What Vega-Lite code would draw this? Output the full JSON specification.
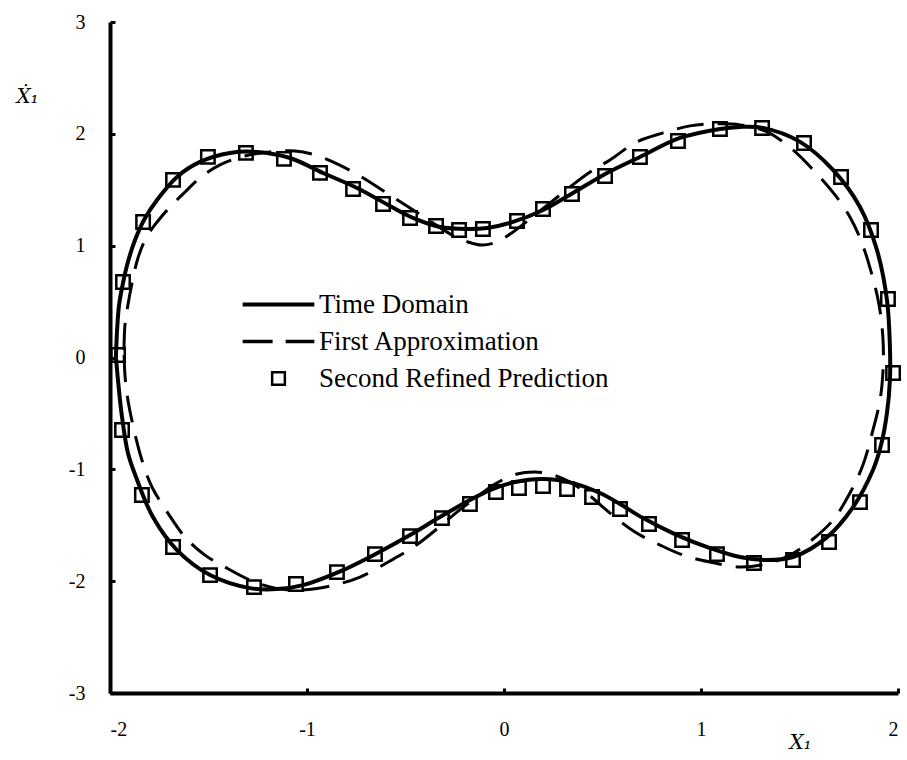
{
  "$schema": "https://vega.github.io/schema/vega-lite/v6.json",
  "autosize": {"type": "none"},
  "padding": {"left": 110, "top": 22, "right": 9, "bottom": 67},
  "width": 788,
  "height": 671,
  "background": "white",
  "config": {"view": {"stroke": null}},
  "datasets": {
    "td": [
      {"s":"Time Domain","i":1,"x":-1.970,"y":0.004},{"s":"Time Domain","i":2,"x":-1.964,"y":0.246},{"s":"Time Domain","i":3,"x":-1.954,"y":0.470},{"s":"Time Domain","i":4,"x":-1.934,"y":0.666},{"s":"Time Domain","i":5,"x":-1.909,"y":0.854},{"s":"Time Domain","i":6,"x":-1.873,"y":1.051},{"s":"Time Domain","i":7,"x":-1.822,"y":1.248},{"s":"Time Domain","i":8,"x":-1.761,"y":1.409},{"s":"Time Domain","i":9,"x":-1.660,"y":1.615},{"s":"Time Domain","i":10,"x":-1.543,"y":1.749},
      {"s":"Time Domain","i":11,"x":-1.391,"y":1.829},{"s":"Time Domain","i":12,"x":-1.254,"y":1.838},{"s":"Time Domain","i":13,"x":-1.086,"y":1.784},{"s":"Time Domain","i":14,"x":-0.919,"y":1.650},{"s":"Time Domain","i":15,"x":-0.746,"y":1.516},{"s":"Time Domain","i":16,"x":-0.579,"y":1.355},{"s":"Time Domain","i":17,"x":-0.462,"y":1.248},{"s":"Time Domain","i":18,"x":-0.325,"y":1.167},{"s":"Time Domain","i":19,"x":-0.188,"y":1.149},{"s":"Time Domain","i":20,"x":-0.086,"y":1.158},
      {"s":"Time Domain","i":21,"x":0.046,"y":1.212},{"s":"Time Domain","i":22,"x":0.198,"y":1.319},{"s":"Time Domain","i":23,"x":0.350,"y":1.471},{"s":"Time Domain","i":24,"x":0.523,"y":1.650},{"s":"Time Domain","i":25,"x":0.690,"y":1.793},{"s":"Time Domain","i":26,"x":0.893,"y":1.963},{"s":"Time Domain","i":27,"x":1.096,"y":2.044},{"s":"Time Domain","i":28,"x":1.198,"y":2.062},{"s":"Time Domain","i":29,"x":1.315,"y":2.053},{"s":"Time Domain","i":30,"x":1.503,"y":1.928},
      {"s":"Time Domain","i":31,"x":1.670,"y":1.677},{"s":"Time Domain","i":32,"x":1.807,"y":1.346},{"s":"Time Domain","i":33,"x":1.893,"y":0.962},{"s":"Time Domain","i":34,"x":1.944,"y":0.514},{"s":"Time Domain","i":35,"x":1.959,"y":0.094},{"s":"Time Domain","i":36,"x":1.959,"y":-0.201},{"s":"Time Domain","i":37,"x":1.944,"y":-0.496},{"s":"Time Domain","i":38,"x":1.914,"y":-0.783},{"s":"Time Domain","i":39,"x":1.873,"y":-1.006},{"s":"Time Domain","i":40,"x":1.772,"y":-1.337},
      {"s":"Time Domain","i":41,"x":1.640,"y":-1.606},{"s":"Time Domain","i":42,"x":1.467,"y":-1.784},{"s":"Time Domain","i":43,"x":1.335,"y":-1.811},{"s":"Time Domain","i":44,"x":1.198,"y":-1.784},{"s":"Time Domain","i":45,"x":1.046,"y":-1.704},{"s":"Time Domain","i":46,"x":0.878,"y":-1.588},{"s":"Time Domain","i":47,"x":0.706,"y":-1.436},{"s":"Time Domain","i":48,"x":0.589,"y":-1.310},{"s":"Time Domain","i":49,"x":0.487,"y":-1.212},{"s":"Time Domain","i":50,"x":0.350,"y":-1.123},
      {"s":"Time Domain","i":51,"x":0.198,"y":-1.087},{"s":"Time Domain","i":52,"x":0.056,"y":-1.114},{"s":"Time Domain","i":53,"x":-0.071,"y":-1.185},{"s":"Time Domain","i":54,"x":-0.173,"y":-1.275},{"s":"Time Domain","i":55,"x":-0.325,"y":-1.427},{"s":"Time Domain","i":56,"x":-0.477,"y":-1.588},{"s":"Time Domain","i":57,"x":-0.614,"y":-1.722},{"s":"Time Domain","i":58,"x":-0.817,"y":-1.901},{"s":"Time Domain","i":59,"x":-1.020,"y":-2.035},{"s":"Time Domain","i":60,"x":-1.152,"y":-2.071},
      {"s":"Time Domain","i":61,"x":-1.289,"y":-2.062},{"s":"Time Domain","i":62,"x":-1.492,"y":-1.945},{"s":"Time Domain","i":63,"x":-1.660,"y":-1.722},{"s":"Time Domain","i":64,"x":-1.782,"y":-1.427},{"s":"Time Domain","i":65,"x":-1.868,"y":-1.069},{"s":"Time Domain","i":66,"x":-1.909,"y":-0.854},{"s":"Time Domain","i":67,"x":-1.939,"y":-0.532},{"s":"Time Domain","i":68,"x":-1.957,"y":-0.246},{"s":"Time Domain","i":69,"x":-1.970,"y":0.004}
    ],
    "fa": [
      {"s":"First Approximation","i":1,"x":-1.929,"y":0.067},{"s":"First Approximation","i":2,"x":-1.924,"y":0.291},{"s":"First Approximation","i":3,"x":-1.909,"y":0.470},{"s":"First Approximation","i":4,"x":-1.888,"y":0.666},{"s":"First Approximation","i":5,"x":-1.858,"y":0.890},{"s":"First Approximation","i":6,"x":-1.817,"y":1.069},{"s":"First Approximation","i":7,"x":-1.761,"y":1.212},{"s":"First Approximation","i":8,"x":-1.695,"y":1.346},{"s":"First Approximation","i":9,"x":-1.619,"y":1.480},{"s":"First Approximation","i":10,"x":-1.543,"y":1.606},
      {"s":"First Approximation","i":11,"x":-1.442,"y":1.722},{"s":"First Approximation","i":12,"x":-1.315,"y":1.802},{"s":"First Approximation","i":13,"x":-1.188,"y":1.838},{"s":"First Approximation","i":14,"x":-1.061,"y":1.847},{"s":"First Approximation","i":15,"x":-0.959,"y":1.811},{"s":"First Approximation","i":16,"x":-0.858,"y":1.740},{"s":"First Approximation","i":17,"x":-0.731,"y":1.623},{"s":"First Approximation","i":18,"x":-0.604,"y":1.480},{"s":"First Approximation","i":19,"x":-0.477,"y":1.337},{"s":"First Approximation","i":20,"x":-0.376,"y":1.221},
      {"s":"First Approximation","i":21,"x":-0.274,"y":1.105},{"s":"First Approximation","i":22,"x":-0.183,"y":1.033},{"s":"First Approximation","i":23,"x":-0.112,"y":1.006},{"s":"First Approximation","i":24,"x":-0.036,"y":1.033},{"s":"First Approximation","i":25,"x":0.046,"y":1.123},{"s":"First Approximation","i":26,"x":0.132,"y":1.239},{"s":"First Approximation","i":27,"x":0.234,"y":1.382},{"s":"First Approximation","i":28,"x":0.335,"y":1.525},{"s":"First Approximation","i":29,"x":0.437,"y":1.659},{"s":"First Approximation","i":30,"x":0.538,"y":1.767},
      {"s":"First Approximation","i":31,"x":0.675,"y":1.928},{"s":"First Approximation","i":32,"x":0.807,"y":2.008},{"s":"First Approximation","i":33,"x":0.944,"y":2.071},{"s":"First Approximation","i":34,"x":1.071,"y":2.089},{"s":"First Approximation","i":35,"x":1.198,"y":2.080},{"s":"First Approximation","i":36,"x":1.335,"y":2.017},{"s":"First Approximation","i":37,"x":1.467,"y":1.856},{"s":"First Approximation","i":38,"x":1.579,"y":1.659},{"s":"First Approximation","i":39,"x":1.680,"y":1.454},{"s":"First Approximation","i":40,"x":1.756,"y":1.257},
      {"s":"First Approximation","i":41,"x":1.817,"y":1.024},{"s":"First Approximation","i":42,"x":1.868,"y":0.738},{"s":"First Approximation","i":43,"x":1.904,"y":0.470},{"s":"First Approximation","i":44,"x":1.924,"y":0.157},{"s":"First Approximation","i":45,"x":1.924,"y":-0.112},{"s":"First Approximation","i":46,"x":1.909,"y":-0.380},{"s":"First Approximation","i":47,"x":1.873,"y":-0.648},{"s":"First Approximation","i":48,"x":1.822,"y":-0.962},{"s":"First Approximation","i":49,"x":1.756,"y":-1.212},{"s":"First Approximation","i":50,"x":1.670,"y":-1.454},
      {"s":"First Approximation","i":51,"x":1.563,"y":-1.632},{"s":"First Approximation","i":52,"x":1.452,"y":-1.767},{"s":"First Approximation","i":53,"x":1.325,"y":-1.847},{"s":"First Approximation","i":54,"x":1.198,"y":-1.874},{"s":"First Approximation","i":55,"x":1.046,"y":-1.829},{"s":"First Approximation","i":56,"x":0.909,"y":-1.767},{"s":"First Approximation","i":57,"x":0.792,"y":-1.677},{"s":"First Approximation","i":58,"x":0.665,"y":-1.561},{"s":"First Approximation","i":59,"x":0.538,"y":-1.391},{"s":"First Approximation","i":60,"x":0.437,"y":-1.239},
      {"s":"First Approximation","i":61,"x":0.335,"y":-1.114},{"s":"First Approximation","i":62,"x":0.234,"y":-1.042},{"s":"First Approximation","i":63,"x":0.157,"y":-1.024},{"s":"First Approximation","i":64,"x":0.066,"y":-1.042},{"s":"First Approximation","i":65,"x":-0.046,"y":-1.131},{"s":"First Approximation","i":66,"x":-0.137,"y":-1.248},{"s":"First Approximation","i":67,"x":-0.239,"y":-1.382},{"s":"First Approximation","i":68,"x":-0.335,"y":-1.525},{"s":"First Approximation","i":69,"x":-0.452,"y":-1.686},{"s":"First Approximation","i":70,"x":-0.579,"y":-1.820},
      {"s":"First Approximation","i":71,"x":-0.731,"y":-1.963},{"s":"First Approximation","i":72,"x":-0.883,"y":-2.044},{"s":"First Approximation","i":73,"x":-1.036,"y":-2.080},{"s":"First Approximation","i":74,"x":-1.162,"y":-2.062},{"s":"First Approximation","i":75,"x":-1.289,"y":-1.990},{"s":"First Approximation","i":76,"x":-1.416,"y":-1.874},{"s":"First Approximation","i":77,"x":-1.518,"y":-1.767},{"s":"First Approximation","i":78,"x":-1.619,"y":-1.606},{"s":"First Approximation","i":79,"x":-1.706,"y":-1.391},{"s":"First Approximation","i":80,"x":-1.787,"y":-1.158},
      {"s":"First Approximation","i":81,"x":-1.838,"y":-0.917},{"s":"First Approximation","i":82,"x":-1.878,"y":-0.648},{"s":"First Approximation","i":83,"x":-1.909,"y":-0.380},{"s":"First Approximation","i":84,"x":-1.924,"y":-0.157},{"s":"First Approximation","i":85,"x":-1.929,"y":0.067}
    ],
    "sr": [
      {"s":"Second Refined Prediction","x":-1.959,"y":0.022},{"s":"Second Refined Prediction","x":-1.934,"y":0.675},{"s":"Second Refined Prediction","x":-1.832,"y":1.212},{"s":"Second Refined Prediction","x":-1.680,"y":1.588},{"s":"Second Refined Prediction","x":-1.503,"y":1.794},{"s":"Second Refined Prediction","x":-1.310,"y":1.830},{"s":"Second Refined Prediction","x":-1.117,"y":1.776},{"s":"Second Refined Prediction","x":-0.934,"y":1.651},{"s":"Second Refined Prediction","x":-0.766,"y":1.507},{"s":"Second Refined Prediction","x":-0.614,"y":1.373},
      {"s":"Second Refined Prediction","x":-0.477,"y":1.248},{"s":"Second Refined Prediction","x":-0.345,"y":1.176},{"s":"Second Refined Prediction","x":-0.228,"y":1.140},{"s":"Second Refined Prediction","x":-0.107,"y":1.149},{"s":"Second Refined Prediction","x":0.066,"y":1.221},{"s":"Second Refined Prediction","x":0.198,"y":1.328},{"s":"Second Refined Prediction","x":0.345,"y":1.462},{"s":"Second Refined Prediction","x":0.513,"y":1.623},{"s":"Second Refined Prediction","x":0.690,"y":1.793},{"s":"Second Refined Prediction","x":0.883,"y":1.936},
      {"s":"Second Refined Prediction","x":1.096,"y":2.043},{"s":"Second Refined Prediction","x":1.310,"y":2.052},{"s":"Second Refined Prediction","x":1.523,"y":1.918},{"s":"Second Refined Prediction","x":1.711,"y":1.614},{"s":"Second Refined Prediction","x":1.863,"y":1.140},{"s":"Second Refined Prediction","x":1.949,"y":0.523},{"s":"Second Refined Prediction","x":1.975,"y":-0.139},{"s":"Second Refined Prediction","x":1.919,"y":-0.783},{"s":"Second Refined Prediction","x":1.807,"y":-1.293},{"s":"Second Refined Prediction","x":1.650,"y":-1.650},
      {"s":"Second Refined Prediction","x":1.467,"y":-1.811},{"s":"Second Refined Prediction","x":1.269,"y":-1.838},{"s":"Second Refined Prediction","x":1.081,"y":-1.758},{"s":"Second Refined Prediction","x":0.904,"y":-1.632},{"s":"Second Refined Prediction","x":0.736,"y":-1.489},{"s":"Second Refined Prediction","x":0.589,"y":-1.355},{"s":"Second Refined Prediction","x":0.447,"y":-1.248},{"s":"Second Refined Prediction","x":0.320,"y":-1.176},{"s":"Second Refined Prediction","x":0.198,"y":-1.149},{"s":"Second Refined Prediction","x":0.076,"y":-1.167},
      {"s":"Second Refined Prediction","x":-0.041,"y":-1.203},{"s":"Second Refined Prediction","x":-0.173,"y":-1.310},{"s":"Second Refined Prediction","x":-0.315,"y":-1.436},{"s":"Second Refined Prediction","x":-0.477,"y":-1.597},{"s":"Second Refined Prediction","x":-0.655,"y":-1.758},{"s":"Second Refined Prediction","x":-0.848,"y":-1.919},{"s":"Second Refined Prediction","x":-1.056,"y":-2.026},{"s":"Second Refined Prediction","x":-1.269,"y":-2.053},{"s":"Second Refined Prediction","x":-1.492,"y":-1.946},{"s":"Second Refined Prediction","x":-1.680,"y":-1.695},
      {"s":"Second Refined Prediction","x":-1.838,"y":-1.230},{"s":"Second Refined Prediction","x":-1.939,"y":-0.648}
    ]
  },
  "encoding": {
    "x": {
      "field": "x", "type": "quantitative",
      "scale": {"domain": [-2, 2], "nice": false, "zero": false},
      "axis": {
        "values": [-2, -1, 0, 1, 2],
        "labelExpr": "'' + datum.value",
        "grid": false,
        "domainColor": "black", "domainWidth": 4,
        "tickColor": "black", "tickWidth": 3, "tickSize": -5,
        "labelFont": "Liberation Serif", "labelFontSize": 20, "labelColor": "black", "labelPadding": 31,
        "title": "X₁",
        "titleFont": "DejaVu Serif", "titleFontStyle": "italic", "titleFontWeight": "normal", "titleFontSize": 20, "titleColor": "black",
        "titleAlign": "center", "titleBaseline": "alphabetic", "titleX": 690, "titleY": 55
      }
    },
    "y": {
      "field": "y", "type": "quantitative",
      "scale": {"domain": [-3, 3], "nice": false, "zero": false},
      "axis": {
        "values": [-3, -2, -1, 0, 1, 2, 3],
        "labelExpr": "'' + datum.value",
        "grid": false,
        "domainColor": "black", "domainWidth": 4,
        "tickColor": "black", "tickWidth": 3, "tickSize": -5,
        "labelFont": "Liberation Serif", "labelFontSize": 20, "labelColor": "black", "labelPadding": 30,
        "title": "Ẋ₁",
        "titleFont": "DejaVu Serif", "titleFontStyle": "italic", "titleFontWeight": "normal", "titleFontSize": 20, "titleColor": "black",
        "titleAngle": 0, "titleAlign": "center", "titleBaseline": "alphabetic", "titleX": -83, "titleY": 80
      }
    },
    "color": {
      "field": "s", "type": "nominal",
      "scale": {"domain": ["Time Domain", "First Approximation", "Second Refined Prediction"], "range": ["black", "black", "black"]},
      "legend": {
        "title": null, "orient": "none", "legendX": 132, "legendY": 269,
        "padding": 0,
        "labelFont": "Liberation Serif", "labelFontSize": 27, "labelColor": "black", "labelLimit": 0,
        "symbolSize": 420, "symbolOffset": 23, "labelOffset": 27, "rowPadding": 9,
        "symbolStrokeWidth": 3.5,
        "encode": {
          "symbols": {
            "update": {
              "shape": {"signal": "datum.value === 'Second Refined Prediction' ? 'M-0.62,-0.62H0.62V0.62H-0.62Z' : 'M-3.5,0H3.5'"},
              "strokeDash": {"signal": "datum.value === 'First Approximation' ? [30,13] : [1,0]"},
              "strokeWidth": {"signal": "datum.value === 'Second Refined Prediction' ? 2.5 : (datum.value === 'Time Domain' ? 4 : 3.5)"},
              "stroke": {"value": "black"},
              "fill": {"value": "transparent"},
              "opacity": {"value": 1}
            }
          }
        }
      }
    }
  },
  "layer": [
    {
      "data": {"name": "td"},
      "mark": {"type": "line", "strokeWidth": 4, "interpolate": "catmull-rom", "strokeJoin": "round"},
      "encoding": {"order": {"field": "i", "type": "quantitative"}}
    },
    {
      "data": {"name": "fa"},
      "mark": {"type": "line", "strokeWidth": 3, "strokeDash": [27, 14], "interpolate": "catmull-rom"},
      "encoding": {"order": {"field": "i", "type": "quantitative"}}
    },
    {
      "data": {"name": "sr"},
      "mark": {"type": "point", "shape": "square", "size": 180, "filled": false, "strokeWidth": 2.5, "opacity": 1}
    }
  ]
}
